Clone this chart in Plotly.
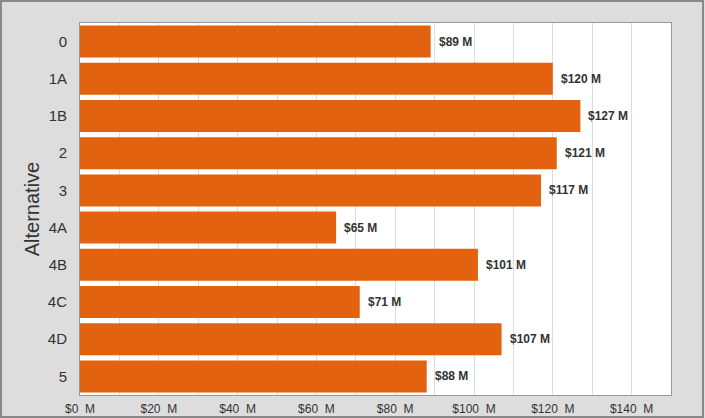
import plotly.graph_objects as go

categories = ["0", "1A", "1B", "2", "3", "4A", "4B", "4C", "4D", "5"]
values = [89, 120, 127, 121, 117, 65, 101, 71, 107, 88]
bar_labels = ["$%d M" % v for v in values]
tick_values = [0, 20, 40, 60, 80, 100, 120, 140]
tick_labels = ["$%d  M" % v for v in tick_values]

W, H = 705, 418
L, R, T, B = 80, 34, 23, 23
pw, ph = W - L - R, H - T - B

fig = go.Figure(go.Bar(
    x=values, y=categories, orientation="h",
    marker=dict(color="#E2620F", line=dict(width=0)),
))

# category axis: annotation y given as category index
for i, (v, t) in enumerate(zip(values, bar_labels)):
    fig.add_annotation(x=v, y=i, text=t, showarrow=False, xanchor="left",
                       yanchor="middle", xshift=6,
                       font=dict(family="Liberation Sans, Arial", size=12,
                                 color="#333333", weight="bold"))

fig.update_layout(
    width=W, height=H,
    margin=dict(l=L, r=R, t=T, b=B, autoexpand=False),
    paper_bgcolor="#DDDDDD", plot_bgcolor="#FFFFFF",
    bargap=0.14, showlegend=False,
    font=dict(family="Liberation Sans, Arial", color="#333333"),
    xaxis=dict(range=[0, 150], tickvals=tick_values, ticktext=tick_labels,
               showgrid=False, zeroline=False, automargin=False,
               minor=dict(dtick=10, tick0=0, showgrid=True, gridcolor="#DDDDDD", gridwidth=1),
               tickfont=dict(size=12, color="#333333"),
               showline=True, mirror=True, linecolor="#999999", linewidth=1,
               ticks="outside", ticklen=3, tickcolor="rgba(0,0,0,0)"),
    yaxis=dict(autorange="reversed", tickfont=dict(size=15, color="#333333"),
               automargin=False, type="category",
               title=dict(text="Alternative", font=dict(size=20, color="#333333"), standoff=2),
               showline=True, mirror=True, linecolor="#999999", linewidth=1,
               ticks="outside", ticklen=9, tickcolor="rgba(0,0,0,0)"),
    shapes=[dict(type="rect", xref="paper", yref="paper",
                 x0=-(L - 1) / pw, x1=1 + (R - 2) / pw,
                 y0=-(B - 1) / ph, y1=1 + (T - 1) / ph,
                 line=dict(color="#888888", width=2), layer="below")],
)

fig.write_html("out.html")
